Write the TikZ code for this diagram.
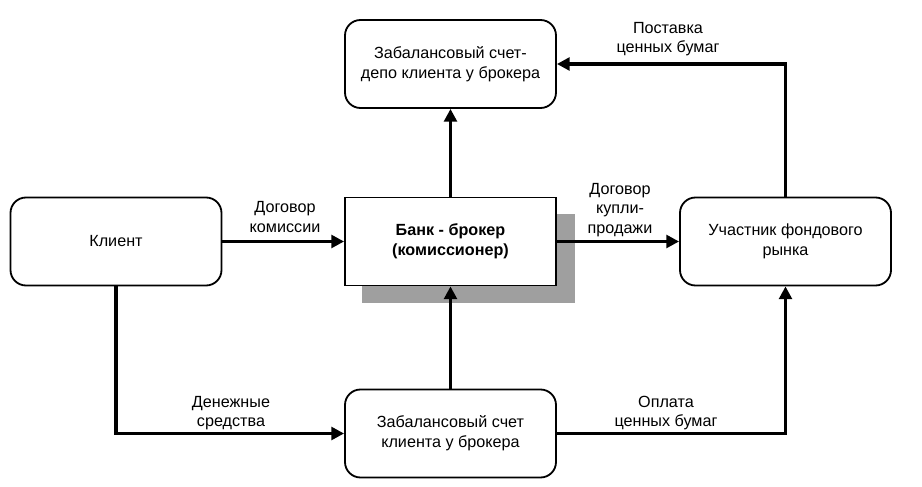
\documentclass[tikz,border=0pt]{standalone}
\usepackage{fontspec}
\setmainfont{Liberation Sans}
\usepackage{tikz}
\usetikzlibrary{positioning, arrows.meta}

\tikzset{
    box/.style={draw, line width=1.3pt, rounded corners=11pt, minimum width=5.275cm, minimum height=2.2cm, align=center, fill=white},
    flow/.style={line width=2.8pt, -{Triangle[length=9pt, width=9pt]}},
    lbl/.style={align=center}
}

\begin{document}
\begin{tikzpicture}[font=\fontsize{11.5}{14}\selectfont]
            \useasboundingbox (0, 0) rectangle (23.05, 12.175);

            \fill [gray!75] (9.05, 4.6) rectangle (14.375, 6.825);
            \node [box] (depo) at (11.2625, 10.575) {Забалансовый счет-\\депо клиента у брокера};
            \node [box] (client) at (2.9, 6.1375) {Клиент};
            \node [box, rounded corners=0pt, font=\fontsize{11.5}{14}\selectfont\bfseries] (bank) at (11.2625, 6.1375) {Банк - брокер\\(комиссионер)};
            \node [box] (market) at (19.6375, 6.1375) {Участник фондового\\рынка};
            \node [box] (account) at (11.2625, 1.3375) {Забалансовый счет\\клиента у брокера};

            \node [lbl] (commission) at (7.125, 6.75) {Договор\\комиссии};
            \node [lbl] (sale) at (15.5, 6.925) {Договор\\купли-\\продажи};
            \node [lbl] (delivery) at (16.7, 11.2) {Поставка\\ценных бумаг};
            \node [lbl] (money) at (5.775, 1.85) {Денежные\\средства};
            \node [lbl] (payment) at (16.65, 1.85) {Оплата\\ценных бумаг};

            \draw [flow] (client) -- (bank);
            \draw [flow] (bank) -- (market);
            \draw [flow] (bank) -- (depo);
            \draw [flow] (account) -- (bank);
            \draw [flow] (client.south) |- (account.west);
            \draw [flow] (account.east) -| (market.south);
            \draw [flow] (market.north) |- (depo.east);
        \end{tikzpicture}
\end{document}
